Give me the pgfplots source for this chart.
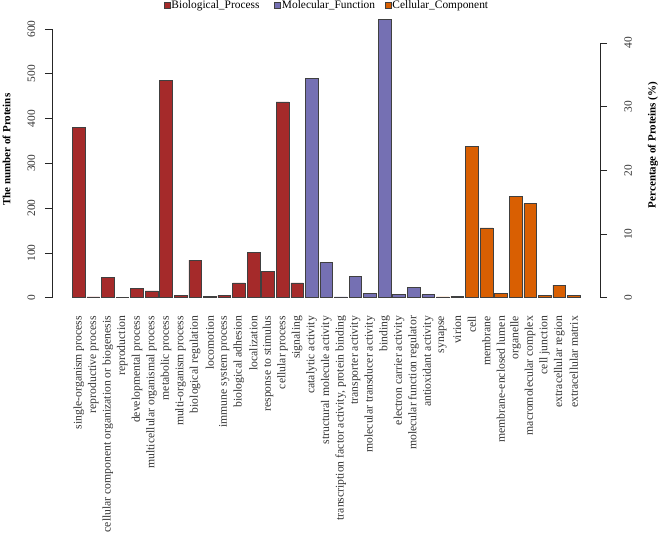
\documentclass[border=0pt]{standalone}
\usepackage{fontspec}
\setmainfont{Liberation Serif}
\usepackage{pgfplots}
\pgfplotsset{compat=1.18}
\definecolor{bpcol}{RGB}{165,42,42}
\definecolor{mfcol}{RGB}{117,112,179}
\definecolor{cccol}{RGB}{217,95,2}
\newcommand{\f}{\fontsize{11.4}{13}\selectfont}
\newcommand{\fx}{\fontsize{11.7}{13}\selectfont}
\begin{document}
\begin{tikzpicture}
\useasboundingbox (-52pt,-235.3pt) rectangle (608pt,297.7pt);
\begin{axis}[
  scale only axis, width=548pt, height=268.7pt,
  xmin=-1.834, xmax=35.80, ymin=0, ymax=600,
  clip=false,
  axis x line*=bottom, axis y line*=left,
  x axis line style={draw=none},
  y axis line style={black!85, line width=0.6pt, -},
  xtick={0,...,34},
  xticklabels={single-organism process,reproductive process,cellular component organization or biogenesis,reproduction,developmental process,multicellular organismal process,metabolic process,multi-organism process,biological regulation,locomotion,immune system process,biological adhesion,localization,response to stimulus,cellular process,signaling,catalytic activity,structural molecule activity,{transcription factor activity, protein binding},transporter activity,molecular transducer activity,binding,electron carrier activity,molecular function regulator,antioxidant activity,synapse,virion,cell,membrane,membrane-enclosed lumen,organelle,macromolecular complex,cell junction,extracellular region,extracellular matrix},
  xtick style={draw=none},
  ytick={0,100,...,600},
  ytick style={black!85, line width=0.6pt},
  tick align=outside, major tick length=7pt,
  /pgf/number format/assume math mode=true,
  yticklabel style={rotate=90, anchor=center, font=\f, text=black!80},
  yticklabel shift=13.6pt,
  xticklabel style={rotate=90, anchor=east, font=\fx, text=black!80},
  xticklabel shift=7.8pt,
  ylabel={\textbf{The number of Proteins}},
  ylabel style={at={(axis description cs:-0.083,0.551)}, anchor=center, font=\fontsize{11}{13}\selectfont},
  ybar, bar width=12.7pt,
  legend columns=3,
  legend image code/.code={\draw[#1] (0pt,-3pt) rectangle (6pt,3pt);},
  legend style={at={(axis description cs:0.204,1.087)}, anchor=west, draw=none, fill=none,
    inner sep=0pt, font=\f,
    nodes={inner xsep=1pt, inner ysep=1pt, text width=102pt, align=left},
    /tikz/every even column/.append style={column sep=0pt}},
]
\addplot[bar shift=0pt, fill=bpcol, draw=black!75, line width=0.5pt] coordinates {
(0,381)(1,2)(2,45)(3,1)(4,20)(5,15)(6,486)(7,6)(8,84)(9,3)(10,5)(11,33)(12,101)(13,59)(14,437)(15,33)};
\addlegendentry{Biological\_Process}
\addplot[bar shift=0pt, fill=mfcol, draw=black!75, line width=0.5pt] coordinates {
(16,490)(17,79)(18,2)(19,48)(20,10)(21,622)(22,8)(23,23)(24,7)};
\addlegendentry{Molecular\_Function}
\addplot[bar shift=0pt, fill=cccol, draw=black!75, line width=0.5pt] coordinates {
(25,2)(26,3)(27,338)(28,156)(29,10)(30,226)(31,210)(32,5)(33,28)(34,5)};
\addlegendentry{Cellular\_Component}
\end{axis}
\begin{axis}[
  scale only axis, width=548pt, height=254.7pt,
  xmin=-1.834, xmax=35.80, ymin=0, ymax=40,
  axis x line=none, axis y line*=right,
  y axis line style={black!85, line width=0.6pt, -},
  ytick={0,10,...,40},
  ytick style={black!85, line width=0.6pt},
  tick align=outside, major tick length=7pt,
  /pgf/number format/assume math mode=true,
  yticklabel style={rotate=90, anchor=center, font=\f, text=black!80},
  yticklabel shift=21pt,
  ylabel={\textbf{Percentage of Proteins (\%)}},
  ylabel style={at={(axis description cs:1.0967,0.600)}, anchor=center, font=\fontsize{11}{13}\selectfont},
]
\end{axis}
\end{tikzpicture}
\end{document}
